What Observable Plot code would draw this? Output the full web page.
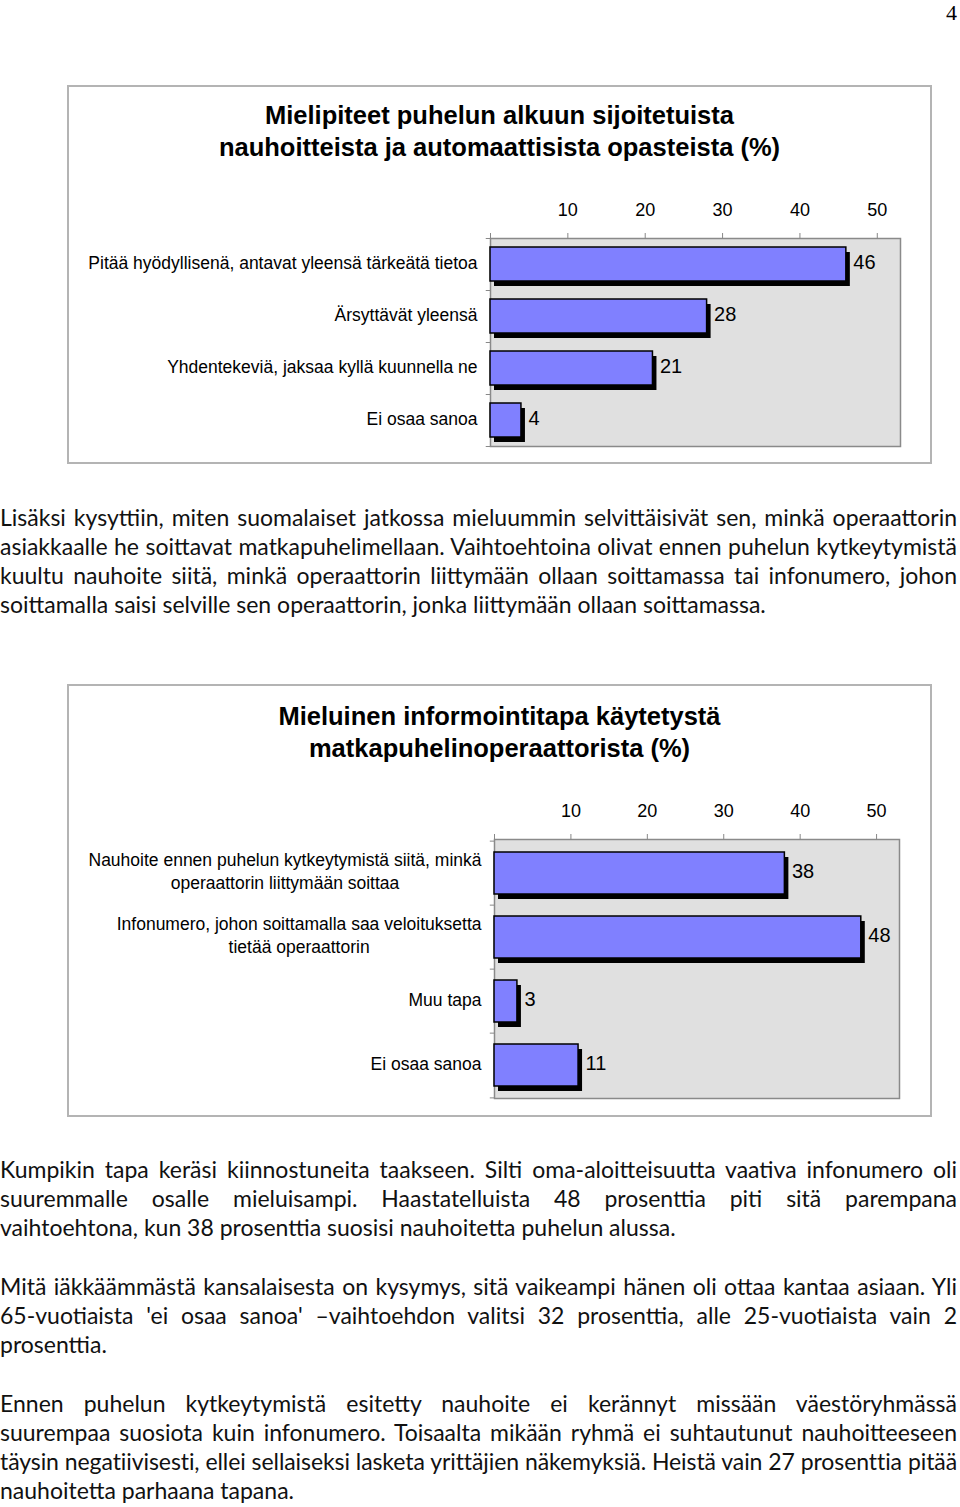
<!DOCTYPE html>
<html>
<head>
<meta charset="utf-8">
<script src="https://cdn.jsdelivr.net/npm/d3@7"></script>
<script src="https://cdn.jsdelivr.net/npm/@observablehq/plot@0.6"></script>
<style>
  html, body { margin: 0; padding: 0; background: white; }
  #page { position: relative; width: 960px; height: 1507px; overflow: hidden; }
  .box { position: absolute; border: 2px solid #b4b4b4; box-sizing: border-box; }
  .title { position: absolute; text-align: center; font-family: "Liberation Sans", Arial, sans-serif; font-weight: bold; font-size: 25.5px; line-height: 32px; color: #000; }
  .line { position: absolute; left: 0; width: 957px; font-family: Lato, "Open Sans", sans-serif; font-size: 23px; line-height: 29px; white-space: nowrap; color: #111; }
  .just { text-align: justify; text-align-last: justify; }
  .chart { position: absolute; }
  #pnum { position: absolute; right: 3px; top: 0px; font-family: "Liberation Serif", "DejaVu Serif", serif; font-size: 22px; line-height: 26px; }
</style>
</head>
<body>
<div id="page">
  <div id="pnum">4</div>
  <div class="box" style="left:67px; top:85px; width:865px; height:379px;"></div>
  <div class="title" style="left:68px; width:863px; top:99px;">Mielipiteet puhelun alkuun sijoitetuista<br>nauhoitteista ja automaattisista opasteista (%)</div>
  <div class="chart" id="chart1" style="left:68px; top:170px;"></div>

  <div class="box" style="left:67px; top:684px; width:865px; height:433px;"></div>
  <div class="title" style="left:68px; width:863px; top:700px;">Mieluinen informointitapa käytetystä<br>matkapuhelinoperaattorista (%)</div>
  <div class="chart" id="chart2" style="left:68px; top:770px;"></div>
</div>
<script>
// ---- Data ----
const chart1Labels = [
  "Pitää hyödyllisenä, antavat yleensä tärkeätä tietoa",
  "Ärsyttävät yleensä",
  "Yhdentekeviä, jaksaa kyllä kuunnella ne",
  "Ei osaa sanoa"
];
const chart1Values = [46, 28, 21, 4];

const chart2Labels = [
  "Nauhoite ennen puhelun kytkeytymistä siitä, minkä\noperaattorin liittymään soittaa",
  "Infonumero, johon soittamalla saa veloituksetta\ntietää operaattorin",
  "Muu tapa",
  "Ei osaa sanoa"
];
const chart2Values = [38, 48, 3, 11];

const xTicks = [0, 10, 20, 30, 40, 50];
const xMax = 53;

const textLines = [
  // [center y, text, justified]
  [517, "Lisäksi kysyttiin, miten suomalaiset jatkossa mieluummin selvittäisivät sen, minkä operaattorin", true],
  [546, "asiakkaalle he soittavat matkapuhelimellaan. Vaihtoehtoina olivat ennen puhelun kytkeytymistä", true],
  [575, "kuultu nauhoite siitä, minkä operaattorin liittymään ollaan soittamassa tai infonumero, johon", true],
  [604, "soittamalla saisi selville sen operaattorin, jonka liittymään ollaan soittamassa.", false],
  [1169, "Kumpikin tapa keräsi kiinnostuneita taakseen. Silti oma-aloitteisuutta vaativa infonumero oli", true],
  [1198, "suuremmalle osalle mieluisampi. Haastatelluista 48 prosenttia piti sitä parempana", true],
  [1227, "vaihtoehtona, kun 38 prosenttia suosisi nauhoitetta puhelun alussa.", false],
  [1286, "Mitä iäkkäämmästä kansalaisesta on kysymys, sitä vaikeampi hänen oli ottaa kantaa asiaan. Yli", true],
  [1315, "65-vuotiaista 'ei osaa sanoa' –vaihtoehdon valitsi 32 prosenttia, alle 25-vuotiaista vain 2", true],
  [1344, "prosenttia.", false],
  [1403, "Ennen puhelun kytkeytymistä esitetty nauhoite ei kerännyt missään väestöryhmässä", true],
  [1432, "suurempaa suosiota kuin infonumero. Toisaalta mikään ryhmä ei  suhtautunut nauhoitteeseen", true],
  [1461, "täysin negatiivisesti, ellei sellaiseksi lasketa yrittäjien näkemyksiä. Heistä vain 27 prosenttia pitää", true],
  [1490, "nauhoitetta parhaana tapana.", false]
];

function makeChart(labels, values, opts) {
  const data = labels.map((label, i) => ({label, value: values[i]}));
  const {width, height, marginTop, marginBottom, marginLeft, marginRight, lineHeight} = opts;
  const step = (height - marginTop - marginBottom) / labels.length;
  return Plot.plot({
    width, height, marginTop, marginBottom, marginLeft, marginRight,
    style: {background: "transparent", fontFamily: "'Liberation Sans', Arial, sans-serif", fontSize: "16px", color: "black"},
    x: {domain: [0, xMax], label: null},
    y: {domain: labels, paddingInner: 0.35, paddingOuter: 0.175, label: null},
    marks: [
      Plot.frame({fill: "#e0e0e0", stroke: "#8a8a8a", strokeWidth: 1.5}),
      Plot.ruleY(labels, {y: d => d, x1: -0.55, x2: 0, dy: -step / 2, stroke: "#888"}),
      Plot.ruleY(labels.slice(-1), {y: d => d, x1: -0.55, x2: 0, dy: step / 2, stroke: "#888"}),
      Plot.axisX({anchor: "top", label: null, ticks: xTicks, tickFormat: d => d === 0 ? "" : String(d), tickSize: 6, tickPadding: 17, fontSize: 18, stroke: "#888", fill: "black"}),
      Plot.axisY({label: null, tickSize: 0, tickPadding: 13, fontSize: 17.5, lineHeight: lineHeight, dy: -3, fill: "black"}),
      Plot.barX(data, {x: "value", y: "label", fill: "black", dx: 4, dy: 5}),
      Plot.barX(data, {x: "value", y: "label", fill: "#8080ff", stroke: "black", strokeWidth: 1.5}),
      Plot.text(data, {x: "value", y: "label", text: d => String(d.value), textAnchor: "start", dx: 7, dy: -2, fontSize: 20, fill: "black"})
    ]
  });
}

const c1 = makeChart(chart1Labels, chart1Values, {width: 863, height: 290, marginTop: 68, marginBottom: 14, marginLeft: 422, marginRight: 31, lineHeight: 1.3});
document.getElementById("chart1").appendChild(c1);
const c2 = makeChart(chart2Labels, chart2Values, {width: 863, height: 340, marginTop: 69, marginBottom: 12, marginLeft: 426, marginRight: 32, lineHeight: 1.3});
document.getElementById("chart2").appendChild(c2);

// Center multi-line y tick labels within their block (Excel style), keeping the block right-aligned
for (const svg of [c1, c2]) {
  svg.querySelectorAll('g[aria-label="y-axis tick label"] text').forEach(t => {
    const spans = t.querySelectorAll("tspan");
    if (spans.length > 1) {
      let maxW = 0;
      spans.forEach(s => { maxW = Math.max(maxW, s.getComputedTextLength()); });
      t.setAttribute("text-anchor", "middle");
      spans.forEach(s => s.setAttribute("x", -maxW / 2));
    }
  });
}

// Body text lines
const page = document.getElementById("page");
for (const [cy, txt, just] of textLines) {
  const d = document.createElement("div");
  d.className = "line" + (just ? " just" : "");
  d.style.top = (cy - 14.5) + "px";
  d.textContent = txt;
  page.appendChild(d);
  // shrink spacing if the natural width is too wide
  const probe = document.createElement("span");
  probe.textContent = txt;
  probe.style.cssText = "font-family:Lato,'Open Sans',sans-serif;font-size:23px;white-space:pre;position:absolute;visibility:hidden;";
  page.appendChild(probe);
  const w = probe.getBoundingClientRect().width;
  probe.remove();
  if (w > 955) {
    d.style.letterSpacing = ((955 - w) / txt.length) + "px";
  }
}
</script>
</body>
</html>
